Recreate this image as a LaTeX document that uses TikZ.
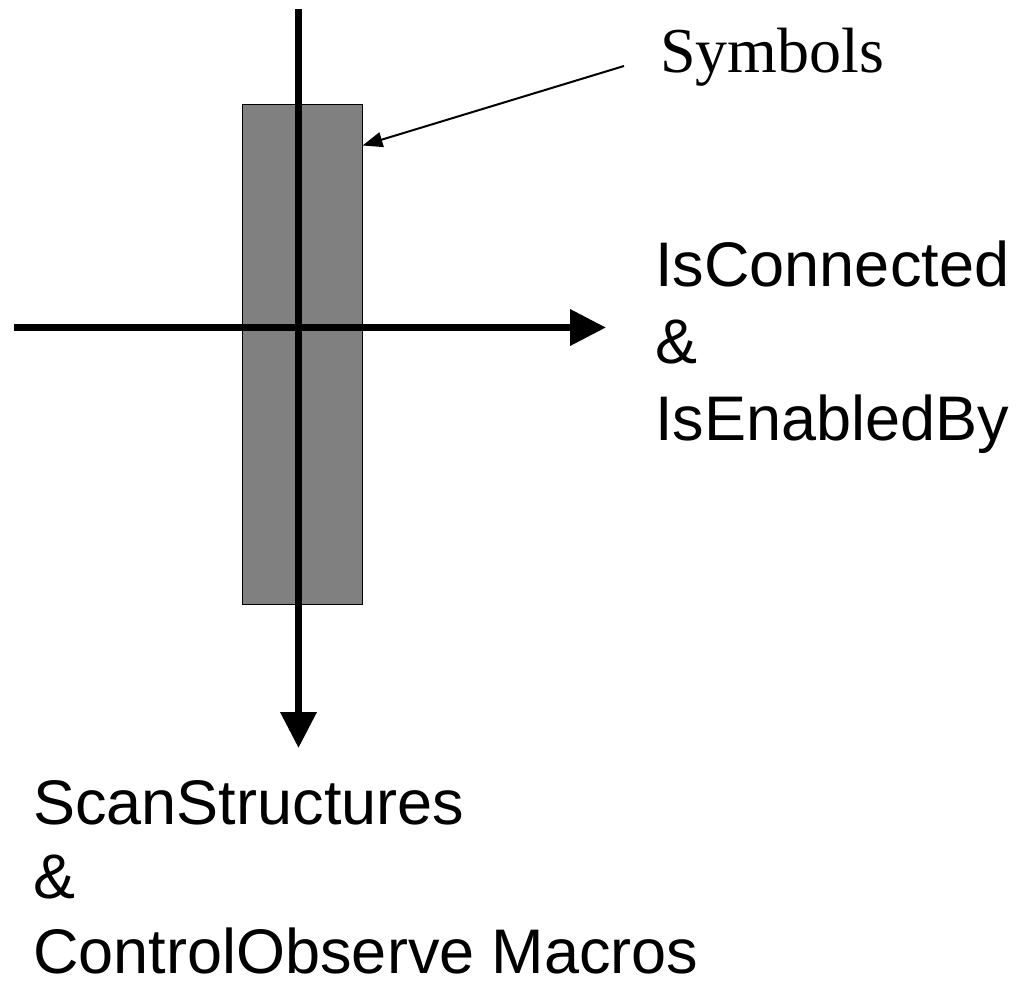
\documentclass[tikz,border=0pt]{standalone}
\usepackage{fontspec}
\setmainfont{Liberation Serif}
\setsansfont{Liberation Sans}
\usetikzlibrary{arrows.meta,calc}

\begin{document}
\begin{tikzpicture}[x=0.5pt,y=-0.5pt,
		axis/.style={line width=3.5pt,-{Triangle[length=18pt,width=17.5pt]}},
		lbl/.style={font=\sffamily\fontsize{31.5}{38.5}\selectfont,align=left,inner sep=0pt,anchor=base west}]
	\useasboundingbox (0,0) rectangle (1021,984);
	\node[draw=black,line width=0.5pt,fill=gray,minimum width=60pt,minimum height=249.75pt,inner sep=0pt] (symbox) at (302,354.25) {};
	\coordinate (vtop) at (298.5,9);
	\coordinate (vend) at (298.5,748);
	\coordinate (hstart) at (14,327.5);
	\coordinate (hend) at (606,327.5);
	\draw[axis] (vtop) -- (vend);
	\draw[axis] (hstart) -- (hend);
	\node[font=\fontsize{32}{38}\selectfont,inner sep=0pt,anchor=base west] (symlbl) at (660,73) {Symbols};
	\coordinate (symtail) at (624,66);
	\draw[line width=1pt,-{Triangle[length=10pt,width=7.5pt]}] (symtail) -- ($(symbox.north east)+(0,41.5)$);
	% base anchor sits on the last line
	\node[lbl] (connlbl) at (655,440) {IsConnected\\\&\\IsEnabledBy};
	\node[lbl,font=\sffamily\fontsize{31.5}{37.25}\selectfont] (scanlbl) at (33,973) {ScanStructures\\\&\\ControlObserve Macros};
\end{tikzpicture}
\end{document}
